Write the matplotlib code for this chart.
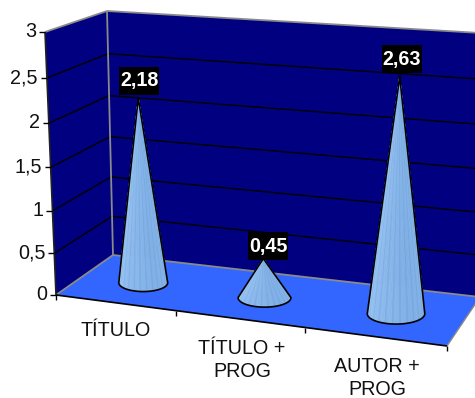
import numpy as np
import matplotlib
matplotlib.use("Agg")
import matplotlib.pyplot as plt
from matplotlib.collections import PolyCollection
from matplotlib.colors import LinearSegmentedColormap
from matplotlib.patches import Rectangle

categories = ["TÍTULO", "TÍTULO +\nPROG", "AUTOR +\nPROG"]
values = [2.18, 0.45, 2.63]
value_labels = ["2,18", "0,45", "2,63"]
y_ticks = [0, 0.5, 1, 1.5, 2, 2.5, 3]
y_tick_labels = ["0", "0,5", "1", "1,5", "2", "2,5", "3"]
y_max = 3.0

W, H = 475, 398
WALL = "#000080"
FLOOR = "#3366FF"
GREY = "#8a8a8a"
plt.rcParams["font.family"] = ["Liberation Sans", "DejaVu Sans"]
FS = 14.2

# Pixel corners of the 3-D box: front-left, front-right, back-right, back-left
floor_c = [(56, 295), (447, 346), (480, 297), (113, 255)]
top_c = [(45, 32), (458, 60), (489, 33.5), (107, 11)]


def homography(c):
    src = [(0, 0), (1, 0), (1, 1), (0, 1)]
    A, b = [], []
    for (u, d), (x, y) in zip(src, c):
        A.append([u, d, 1, 0, 0, 0, -u * x, -d * x]); b.append(x)
        A.append([0, 0, 0, u, d, 1, -u * y, -d * y]); b.append(y)
    return np.append(np.linalg.solve(np.array(A, float), np.array(b, float)), 1).reshape(3, 3)


HF, HT = homography(floor_c), homography(top_c)


def apply(Hm, u, d):
    p = Hm @ np.array([u, d, 1.0])
    return p[:2] / p[2]


def proj(cat, depth, v):
    """category position (0..n), depth (0 front..1 back), value -> pixel"""
    u = cat / len(categories)
    s = v / y_max
    s = s - 0.06 * s * (1 - s)  # perspective foreshortening of the value axis
    return apply(HF, u, depth) * (1 - s) + apply(HT, u, depth) * s


fig = plt.figure(figsize=(W / 100, H / 100), dpi=100)
ax = fig.add_axes([0, 0, 1, 1])
ax.set_xlim(0, W)
ax.set_ylim(H, 0)
ax.axis("off")

n = len(categories)
# walls and floor
ax.fill(*zip(proj(0, 0, 0), proj(0, 1, 0), proj(0, 1, y_max), proj(0, 0, y_max)), color=WALL, lw=0, zorder=1)
ax.fill(*zip(proj(0, 1, 0), proj(n, 1, 0), proj(n, 1, y_max), proj(0, 1, y_max)), color=WALL, lw=0, zorder=1)
ax.fill(*zip(proj(0, 0, 0), proj(n, 0, 0), proj(n, 1, 0), proj(0, 1, 0)), color=FLOOR, lw=0, zorder=1)


def seg(a, b, **kw):
    ax.plot([a[0], b[0]], [a[1], b[1]], solid_capstyle="butt", **kw)


# gridlines
for v in y_ticks[1:-1]:
    seg(proj(0, 0, v), proj(0, 1, v), color="black", lw=1.0, zorder=2)
    seg(proj(0, 1, v), proj(n, 1, v), color="black", lw=1.0, zorder=2)

# box edges
seg(proj(0, 1, 0), proj(0, 1, y_max), color=GREY, lw=1.3, zorder=3)
seg(proj(0, 1, 0), proj(n, 1, 0), color=GREY, lw=1.3, zorder=3)
seg(proj(0, 0, 0), proj(0, 1, 0), color=GREY, lw=1.3, zorder=3)
seg(proj(0, 0, y_max), proj(0, 1, y_max), color=GREY, lw=1.3, zorder=3)
seg(proj(0, 1, y_max), proj(n, 1, y_max), color=GREY, lw=1.3, zorder=3)
seg(proj(n, 0, 0), proj(n, 1, 0), color=GREY, lw=1.0, zorder=3)
seg(proj(0, 0, 0), proj(0, 0, y_max), color="#202020", lw=1.2, zorder=3)
seg(proj(0, 0, 0), proj(n, 0, 0), color="black", lw=1.2, zorder=3)

# value axis ticks and labels
for v, lab in zip(y_ticks, y_tick_labels):
    p = proj(0, 0, v)
    seg(p, p + np.array([-6, 0]), color="black", lw=1.0, zorder=3)
    ax.text(p[0] - 9, p[1] - 0.5, lab, ha="right", va="center", fontsize=FS, color="#111111")

# category ticks and labels
for i in range(n + 1):
    p = proj(i, 0, 0)
    seg(p, p + np.array([0, 5]), color="black", lw=1.0, zorder=3)
label_pos = [(116, 330.5), (242, 360), (377, 378)]
for cat, (x, y) in zip(categories, label_pos):
    ax.text(x, y, cat, ha="center", va="center", fontsize=FS, color="#111111", linespacing=1.3)

# cones
cmap = LinearSegmentedColormap.from_list("c", ["#9cc8f5", "#8dbbec", "#82b2e6", "#86b4e6"])
box_offsets = [(1, -17), (5, -12.5), (2, -17.5)]
for i, (v, lab) in enumerate(zip(values, value_labels)):
    c = proj(i + 0.52, 0.47, 0)
    tip = proj(i + 0.5, 0.5, v)
    a = proj(i + 0.3, 0.47, 0)
    b = proj(i + 0.72, 0.47, 0)
    w = abs(b[0] - a[0]) / 2
    h = w * 0.36
    t = np.linspace(np.pi, 0, 49)
    ex, ey = c[0] + w * np.cos(t), c[1] + h * np.sin(t)
    polys, cols = [], []
    for k in range(len(t) - 1):
        polys.append([tip, (ex[k], ey[k]), (ex[k + 1], ey[k + 1])])
        shade = cmap(k / (len(t) - 2))
        if k % 4 == 2:
            shade = (shade[0] * 0.93, shade[1] * 0.94, shade[2] * 0.98, 1)
        cols.append(shade)
    ax.add_collection(PolyCollection(polys, facecolors=cols, edgecolors=cols, linewidths=0.6, zorder=4))
    ax.plot(np.r_[tip[0], ex, tip[0]], np.r_[tip[1], ey, tip[1]], color="black", lw=1.2, zorder=5,
            solid_joinstyle="round")
    bx, by = tip[0] + box_offsets[i][0], tip[1] + box_offsets[i][1]
    ax.add_patch(Rectangle((bx - 20, by - 14), 40, 28, facecolor="black", edgecolor="none", zorder=6))
    ax.text(bx, by, lab, ha="center", va="center", fontsize=FS, fontweight="bold", color="white", zorder=7)

fig.savefig("out.png", dpi=100)
